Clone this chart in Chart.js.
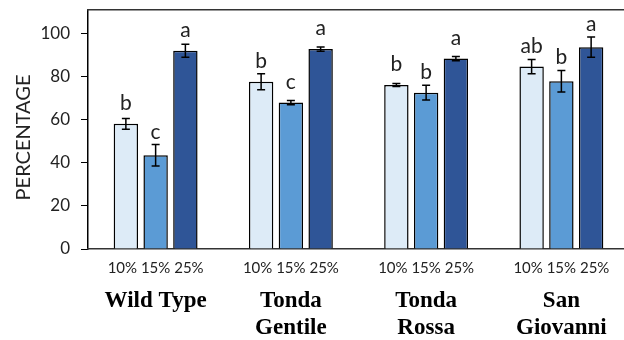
<!DOCTYPE html>
<html>
<head>
<meta charset="utf-8">
<script src="https://cdn.jsdelivr.net/npm/chart.js@4.4.1/dist/chart.umd.min.js"></script>
<style>
  html, body { margin: 0; padding: 0; background: #fff; overflow: hidden; }
  #wrap { position: relative; width: 629px; height: 340px; }
</style>
</head>
<body>
<div id="wrap"><canvas id="chart"></canvas></div>
<script>
// Cultivars (multi-line names) and the three treatment levels
const cultivars = [['Wild Type'], ['Tonda', 'Gentile'], ['Tonda', 'Rossa'], ['San', 'Giovanni']];
const levels = ['10%', '15%', '25%'];

// Mean percentage per cultivar, one array per level
const pct10 = [58.0, 77.5, 76.0, 84.5];
const pct15 = [43.4, 67.8, 72.4, 77.7];
const pct25 = [91.8, 92.6, 88.2, 93.5];

// Standard errors
const err10 = [2.5, 3.7, 0.7, 3.3];
const err15 = [5.0, 1.0, 3.4, 5.0];
const err25 = [3.0, 1.0, 1.0, 4.7];

// Significance letters
const sig10 = ['b', 'b', 'b', 'ab'];
const sig15 = ['c', 'c', 'b', 'b'];
const sig25 = ['a', 'a', 'a', 'a'];

const yTicks = [0, 20, 40, 60, 80, 100];
const yTitle = 'PERCENTAGE';

const seriesFill = ['#DDEBF7', '#5B9BD5', '#2F5597'];

// Error bars with caps, and the significance letter above each bar
const errorBarsAndLetters = {
  id: 'errorBarsAndLetters',
  afterDatasetsDraw(chart) {
    const ctx = chart.ctx;
    const y = chart.scales.y;
    chart.data.datasets.forEach((ds, di) => {
      const meta = chart.getDatasetMeta(di);
      meta.data.forEach((bar, i) => {
        const v = ds.data[i], e = ds.errors[i];
        const yTop = y.getPixelForValue(v + e);
        const yBot = y.getPixelForValue(v - e);
        ctx.save();
        ctx.strokeStyle = '#000';
        ctx.lineWidth = 1.5;
        ctx.beginPath();
        ctx.moveTo(bar.x, yTop); ctx.lineTo(bar.x, yBot);
        ctx.moveTo(bar.x - 4, yTop); ctx.lineTo(bar.x + 4, yTop);
        ctx.moveTo(bar.x - 4, yBot); ctx.lineTo(bar.x + 4, yBot);
        ctx.stroke();
        const base = Math.min(y.getPixelForValue(v) - 14, yTop - 6);
        ctx.fillStyle = '#222';
        ctx.font = '21px Lato';
        ctx.textAlign = 'center';
        ctx.textBaseline = 'alphabetic';
        ctx.fillText(ds.letters[i], bar.x, base);
        ctx.restore();
      });
    });
  }
};

// Vertical axis title, set a little below the middle of the plot
const axisTitle = {
  id: 'axisTitle',
  afterDraw(chart) {
    const { ctx, chartArea } = chart;
    ctx.save();
    ctx.translate(24, (chartArea.top + chartArea.bottom) / 2 + 8);
    ctx.rotate(-Math.PI / 2);
    ctx.fillStyle = '#222';
    ctx.font = '20px Lato';
    ctx.textAlign = 'center';
    ctx.textBaseline = 'middle';
    ctx.fillText(yTitle, 0, 0);
    ctx.restore();
  }
};

new Chart(document.getElementById('chart'), {
  type: 'bar',
  data: {
    labels: cultivars.map(c => c.join(' ')),
    datasets: [
      { label: levels[0], data: pct10, errors: err10, letters: sig10, backgroundColor: seriesFill[0] },
      { label: levels[1], data: pct15, errors: err15, letters: sig15, backgroundColor: seriesFill[1] },
      { label: levels[2], data: pct25, errors: err25, letters: sig25, backgroundColor: seriesFill[2] }
    ].map(d => Object.assign(d, {
      borderColor: '#000', borderWidth: 1.5,
      categoryPercentage: 0.66, barPercentage: 0.82
    }))
  },
  options: {
    responsive: true,
    maintainAspectRatio: false,
    animation: false,
    layout: { padding: { top: 10, right: 0, bottom: 0, left: 0 } },
    plugins: { legend: { display: false }, tooltip: { enabled: false } },
    scales: {
      y: {
        min: 0, max: 110.7,
        afterBuildTicks: s => { s.ticks = yTicks.map(v => ({ value: v })); },
        afterFit: s => { s.width = 88; s.paddingTop = 0; s.paddingBottom = 0; },
        grid: { drawOnChartArea: false, color: '#000', tickLength: 7, lineWidth: 1 },
        border: { color: '#000', width: 1.5 },
        ticks: { color: '#222', font: { family: 'Lato', size: 17 }, padding: 11 }
      },
      x: {
        weight: 0,
        grid: { display: false, drawTicks: false },
        border: { color: '#333', width: 1.5 },
        afterFit: s => { s.height = 30; },
        ticks: {
          color: '#222', font: { family: 'Lato', size: 15 }, padding: 10,
          maxRotation: 0, autoSkip: false,
          callback: () => levels.join(' ')
        }
      },
      x2: {
        type: 'category', position: 'bottom', weight: 1, offset: true,
        labels: cultivars,
        grid: { display: false, drawTicks: false },
        border: { display: false },
        afterFit: s => { s.height = 61; },
        ticks: {
          color: '#000', font: { family: 'Liberation Serif', size: 23, weight: 'bold', lineHeight: 1.2 },
          padding: 8, maxRotation: 0, autoSkip: false
        }
      },
      xTop: {
        type: 'category', position: 'top', offset: true,
        labels: cultivars.map(c => c.join(' ')),
        grid: { display: false, drawTicks: false },
        border: { color: '#333', width: 1.5 },
        ticks: { display: false },
        afterFit: s => { s.height = 0; }
      }
    }
  },
  plugins: [errorBarsAndLetters, axisTitle]
});
</script>
</body>
</html>
